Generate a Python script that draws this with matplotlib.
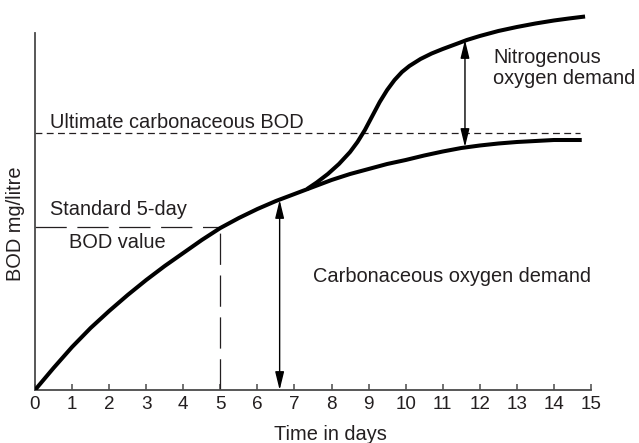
import matplotlib
matplotlib.use("Agg")
import matplotlib.pyplot as plt

plt.rcParams["font.family"] = ["Liberation Sans", "DejaVu Sans"]

# carbonaceous BOD curve (days, mg/litre)
carb_days = [0, 0.5, 1.0, 1.5, 2.0, 2.5, 3.0, 3.5, 4.0, 4.5, 5.0, 5.5, 6.0, 6.5, 7.0, 7.5,
             8.0, 8.5, 9.0, 9.5, 10.0, 10.5, 11.0, 11.5, 12.0, 12.5, 13.0, 13.5, 14.0, 14.75]
carb_bod = [0, 2.2, 4.3, 6.2, 7.9, 9.5, 11.0, 12.4, 13.7, 15.0, 16.2, 17.2, 18.1, 18.9, 19.6, 20.3,
            21.0, 21.6, 22.1, 22.6, 23.0, 23.45, 23.85, 24.2, 24.45, 24.65, 24.8, 24.9, 25.0, 25.0]

# nitrogenous branch, starts where it leaves the carbonaceous curve
nitro_days = [7.34, 7.6, 7.9, 8.2, 8.5, 8.7, 8.9, 9.1, 9.3, 9.5, 9.7, 9.9, 10.1, 10.4, 10.7,
              11.0, 11.4, 11.65, 12.0, 12.5, 13.0, 13.5, 14.0, 14.4, 14.84]
nitro_bod = [20.1, 20.75, 21.6, 22.6, 23.8, 24.8, 26.0, 27.4, 28.8, 30.0, 31.0, 31.8, 32.4, 33.1, 33.65,
             34.1, 34.65, 35.0, 35.4, 35.9, 36.3, 36.65, 36.95, 37.15, 37.35]

ultimate_bod = 25.7
ultimate_end = 14.7
five_day = 5
five_day_bod = 16.3

carb_arrow_x = 6.6
carb_arrow_top = 19.0
nitro_arrow_x = 11.6
nitro_arrow_low, nitro_arrow_high = 24.3, 35.0

ticks = list(range(16))
txt = "#231f20"
axis_col = "#4a4a4a"

fig = plt.figure(figsize=(6.39, 4.43), dpi=100)
ax = fig.add_axes([35 / 639, 53 / 443, 556 / 639, 380 / 443])
ax.set_xlim(0, 15)
ax.set_ylim(0, 38)

for side in ["top", "right"]:
    ax.spines[side].set_visible(False)
for side in ["left", "bottom"]:
    ax.spines[side].set_color(axis_col)
    ax.spines[side].set_linewidth(1.3)
ax.spines["left"].set_bounds(0, 35.7)

ax.set_yticks([])
ax.set_xticks(ticks)
ax.tick_params(axis="x", direction="in", length=4, width=1.1, color=axis_col,
               pad=4, labelsize=13.6, labelcolor=txt)

# curves
ax.plot(carb_days, carb_bod, color="black", lw=2.9, solid_capstyle="butt",
        solid_joinstyle="round", zorder=3)
ax.plot(nitro_days, nitro_bod, color="black", lw=2.9, solid_capstyle="butt",
        solid_joinstyle="round", zorder=3)

# ultimate carbonaceous BOD line
ax.plot([0, ultimate_end], [ultimate_bod, ultimate_bod], color=txt, lw=0.9, dashes=(5.5, 3.5))

# standard 5-day BOD lines
ax.plot([0, five_day], [five_day_bod, five_day_bod], color=txt, lw=0.9, dashes=(25, 8.5))
ax.plot([five_day, five_day], [0, five_day_bod], color=txt, lw=0.9, dashes=(25, 8.5))

# double headed arrows
style = "<|-|>,head_length=1.1,head_width=0.27"
ax.annotate("", xy=(carb_arrow_x, 0), xytext=(carb_arrow_x, carb_arrow_top),
            arrowprops=dict(arrowstyle=style, mutation_scale=10, color="black",
                            lw=1.0, shrinkA=0, shrinkB=0))
ax.annotate("", xy=(nitro_arrow_x, nitro_arrow_low), xytext=(nitro_arrow_x, nitro_arrow_high),
            arrowprops=dict(arrowstyle=style, mutation_scale=10, color="black",
                            lw=1.0, shrinkA=0, shrinkB=0))

fs = 14.4
ax.text(0.40, 26.2, "Ultimate carbonaceous BOD", fontsize=fs, color=txt, va="baseline")
ax.text(0.40, 17.5, "Standard 5-day", fontsize=fs, color=txt, va="baseline")
ax.text(0.92, 14.2, "BOD value", fontsize=fs, color=txt, va="baseline")
ax.text(7.5, 10.8, "Carbonaceous oxygen demand", fontsize=fs, color=txt, va="baseline")
ax.text(12.36, 34.2, "Nitrogenous\noxygen demand", fontsize=fs, color=txt, va="top",
        linespacing=1.15)

ax.set_xlabel("Time in days", fontsize=fs, color=txt)
ax.xaxis.set_label_coords(0.532, -0.093)
ax.set_ylabel("BOD mg/litre", fontsize=fs, color=txt)
ax.yaxis.set_label_coords(-0.018, 0.437)

fig.savefig("out.png", dpi=100)
